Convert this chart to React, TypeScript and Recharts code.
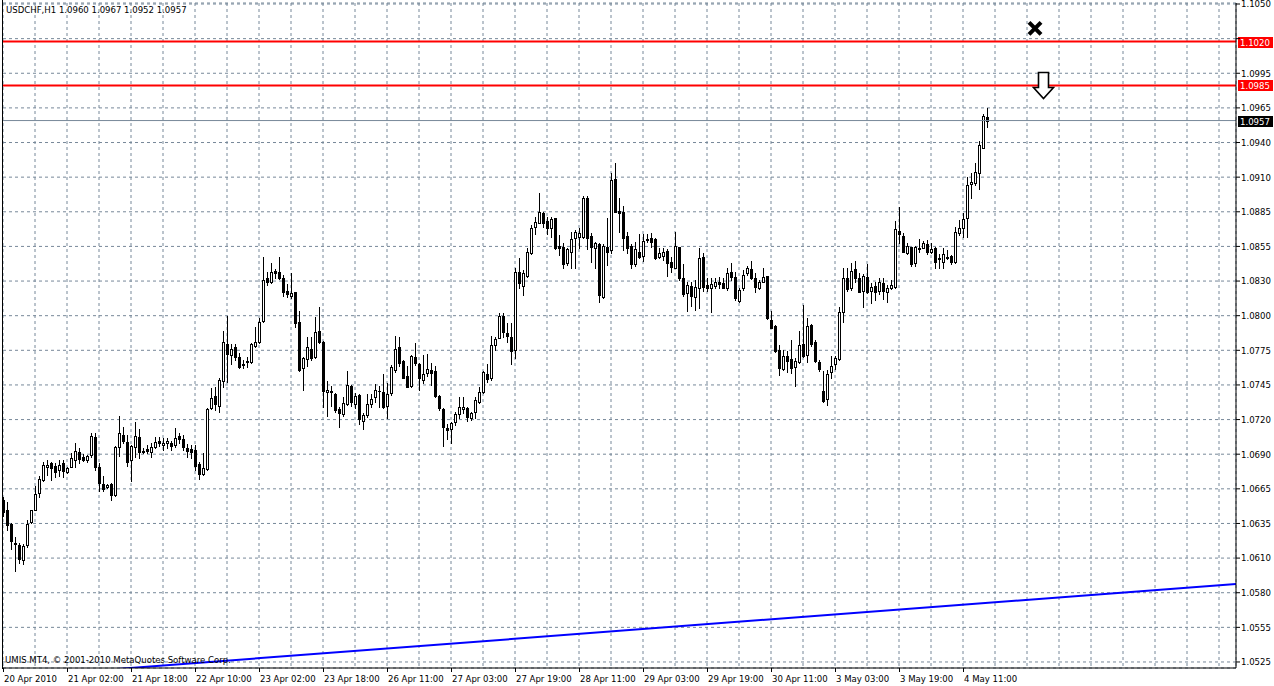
import React from "react";
import { ComposedChart, Bar, XAxis, YAxis, CartesianGrid, ReferenceLine, ReferenceDot } from "recharts";

const symbol = "USDCHF,H1";

// Hourly candles, bar 0 = 20 Apr 2010
const opens = [
  1.0654, 1.06466, 1.06348, 1.06201, 1.06187, 1.06067, 1.06187, 1.06366, 1.06465, 1.06602,
  1.06701, 1.06808, 1.06835, 1.06813, 1.06781, 1.0684, 1.06768, 1.06805, 1.06862, 1.06928,
  1.06888, 1.06862, 1.06902, 1.07049, 1.06803, 1.06669, 1.06647, 1.06669, 1.06581, 1.06969,
  1.07062, 1.07009, 1.06862, 1.06969, 1.07049, 1.06936, 1.06947, 1.06928, 1.06969, 1.07014,
  1.06979, 1.06995, 1.06998, 1.06982, 1.07056, 1.07029, 1.06961, 1.0695, 1.06942, 1.06828,
  1.06748, 1.06788, 1.07275, 1.07373, 1.07296, 1.07493, 1.07788, 1.077, 1.07761, 1.07682,
  1.07631, 1.07652, 1.07642, 1.07775, 1.07801, 1.07971, 1.08312, 1.0828, 1.0837, 1.0836,
  1.08312, 1.08211, 1.08174, 1.082, 1.07961, 1.07599, 1.07668, 1.07748, 1.07687, 1.07892,
  1.07801, 1.07402, 1.07414, 1.07385, 1.07271, 1.07226, 1.07305, 1.07452, 1.07311, 1.0738,
  1.07175, 1.0722, 1.07308, 1.07361, 1.07414, 1.07401, 1.07295, 1.07399, 1.07579, 1.0776,
  1.07651, 1.07531, 1.07452, 1.0768, 1.07627, 1.075, 1.07558, 1.07579, 1.07571, 1.07372,
  1.07266, 1.07119, 1.07106, 1.07167, 1.07228, 1.07271, 1.07274, 1.07194, 1.07247, 1.07327,
  1.07407, 1.07547, 1.07513, 1.07779, 1.07837, 1.0801, 1.07872, 1.07845, 1.07739, 1.08364,
  1.0825, 1.08332, 1.0851, 1.08723, 1.08755, 1.08835, 1.08768, 1.08715, 1.0879, 1.08572,
  1.08558, 1.08431, 1.08524, 1.0863, 1.08643, 1.08643, 1.08955, 1.08649, 1.08556, 1.08582,
  1.08164, 1.08564, 1.08537, 1.09103, 1.08848, 1.08843, 1.08649, 1.08572, 1.08423, 1.08524,
  1.08489, 1.08625, 1.0863, 1.08622, 1.08484, 1.0849, 1.0853, 1.08444, 1.08397, 1.08559,
  1.08317, 1.08197, 1.08253, 1.08165, 1.08232, 1.08484, 1.08258, 1.08232, 1.0825, 1.0828,
  1.08272, 1.08232, 1.08359, 1.08325, 1.08133, 1.08232, 1.08351, 1.08386, 1.08311, 1.08237,
  1.08285, 1.0833, 1.07979, 1.07931, 1.0774, 1.07585, 1.07692, 1.07668, 1.07607, 1.07646,
  1.07785, 1.077, 1.07939, 1.07806, 1.07646, 1.07412, 1.07348, 1.07561, 1.07625, 1.07667,
  1.08045, 1.08311, 1.08236, 1.08385, 1.08316, 1.0821, 1.08319, 1.0821, 1.0825, 1.0821,
  1.08271, 1.08205, 1.08236, 1.08245, 1.08689, 1.08651, 1.08516, 1.08558, 1.08431, 1.08556,
  1.08556, 1.08585, 1.08524, 1.0855, 1.08471, 1.08439, 1.08476, 1.08489, 1.08444, 1.0867,
  1.08715, 1.0879, 1.09061, 1.09069, 1.09149, 1.09354, 1.096,
];
const highs = [
  1.06567, 1.06527, 1.06358, 1.06246, 1.06198, 1.06193, 1.06385, 1.06465, 1.06653, 1.06733,
  1.06848, 1.06862, 1.06848, 1.06835, 1.06862, 1.06862, 1.06808, 1.0692, 1.06995, 1.06955,
  1.0691, 1.06902, 1.07081, 1.07081, 1.06835, 1.06736, 1.06669, 1.0668, 1.06974, 1.07215,
  1.07124, 1.07062, 1.06982, 1.07161, 1.07108, 1.06955, 1.06982, 1.06995, 1.07044, 1.07049,
  1.07035, 1.07041, 1.07014, 1.07115, 1.07075, 1.07062, 1.06987, 1.06982, 1.06982, 1.06849,
  1.06915, 1.07275, 1.07439, 1.07447, 1.07519, 1.07892, 1.08011, 1.07785, 1.07788, 1.07714,
  1.0766, 1.07682, 1.07793, 1.07926, 1.07998, 1.0848, 1.08365, 1.08432, 1.08386, 1.08485,
  1.08339, 1.08264, 1.08352, 1.08206, 1.08051, 1.07687, 1.07846, 1.07846, 1.08006, 1.08086,
  1.0781, 1.07493, 1.07452, 1.07393, 1.07282, 1.07367, 1.07574, 1.0746, 1.07393, 1.07388,
  1.07234, 1.07388, 1.07388, 1.07468, 1.07452, 1.07547, 1.07473, 1.07619, 1.07851, 1.0784,
  1.07659, 1.07611, 1.07699, 1.07797, 1.07638, 1.07699, 1.07707, 1.07633, 1.07611, 1.0738,
  1.07274, 1.07148, 1.07167, 1.07247, 1.07361, 1.07367, 1.07282, 1.07247, 1.07367, 1.07441,
  1.07574, 1.07627, 1.07851, 1.07845, 1.08032, 1.08032, 1.07952, 1.07952, 1.08391, 1.0847,
  1.08377, 1.0855, 1.08736, 1.08803, 1.08989, 1.08843, 1.08803, 1.08803, 1.08795, 1.08657,
  1.0859, 1.08556, 1.08683, 1.08697, 1.0871, 1.0897, 1.0897, 1.0867, 1.08603, 1.0859,
  1.08582, 1.0879, 1.09149, 1.09228, 1.08949, 1.08891, 1.08683, 1.08582, 1.08598, 1.08662,
  1.08662, 1.08662, 1.08675, 1.0863, 1.08551, 1.08551, 1.08545, 1.08484, 1.08678, 1.08564,
  1.08423, 1.08279, 1.08279, 1.08298, 1.08556, 1.08511, 1.08317, 1.08311, 1.08317, 1.08325,
  1.08311, 1.08391, 1.08431, 1.08365, 1.08237, 1.08378, 1.0841, 1.0845, 1.08351, 1.08298,
  1.08397, 1.08333, 1.08051, 1.07939, 1.07779, 1.0774, 1.07732, 1.07819, 1.07678, 1.07891,
  1.08099, 1.07998, 1.07944, 1.07819, 1.0766, 1.07572, 1.0758, 1.07694, 1.07694, 1.08085,
  1.08396, 1.08391, 1.08431, 1.08449, 1.08351, 1.08343, 1.08423, 1.08271, 1.08284, 1.08316,
  1.08311, 1.08258, 1.08298, 1.08769, 1.08883, 1.0867, 1.0859, 1.08564, 1.08572, 1.08625,
  1.08609, 1.08617, 1.0859, 1.08564, 1.08503, 1.08556, 1.08537, 1.08497, 1.08723, 1.08777,
  1.0883, 1.09122, 1.09149, 1.09229, 1.09407, 1.0962, 1.0967,
];
const lows = [
  1.06412, 1.063, 1.06152, 1.05973, 1.06037, 1.06032, 1.06171, 1.06358, 1.0646, 1.06567,
  1.06693, 1.06741, 1.06706, 1.06728, 1.06733, 1.06728, 1.0676, 1.06803, 1.06808, 1.06835,
  1.06856, 1.06848, 1.06888, 1.06781, 1.06613, 1.06613, 1.06642, 1.0654, 1.06573, 1.06894,
  1.06995, 1.06813, 1.06696, 1.06883, 1.06875, 1.06915, 1.0692, 1.06888, 1.06961, 1.06977,
  1.06942, 1.06955, 1.06942, 1.06969, 1.06995, 1.06942, 1.06889, 1.06876, 1.06783, 1.06711,
  1.06743, 1.06783, 1.07269, 1.07261, 1.07248, 1.07447, 1.07482, 1.07626, 1.0766, 1.07599,
  1.07594, 1.07607, 1.07639, 1.07767, 1.07793, 1.07961, 1.08259, 1.08272, 1.08312, 1.08307,
  1.08174, 1.08166, 1.08152, 1.07926, 1.07572, 1.07421, 1.07615, 1.0766, 1.07679, 1.07793,
  1.07288, 1.07216, 1.07292, 1.07247, 1.07127, 1.07212, 1.07297, 1.07292, 1.07274, 1.07148,
  1.07106, 1.07202, 1.07287, 1.07327, 1.07287, 1.07274, 1.07194, 1.0738, 1.07566, 1.07611,
  1.07513, 1.07441, 1.07441, 1.07619, 1.0742, 1.07478, 1.07531, 1.0746, 1.07367, 1.0726,
  1.06973, 1.07026, 1.07, 1.07141, 1.07194, 1.07239, 1.07175, 1.0718, 1.07194, 1.07313,
  1.07399, 1.07486, 1.075, 1.07739, 1.07832, 1.07845, 1.07805, 1.07625, 1.07672, 1.08231,
  1.08178, 1.08324, 1.08502, 1.08662, 1.0875, 1.08723, 1.08662, 1.08643, 1.08545, 1.08497,
  1.08391, 1.08417, 1.08391, 1.08391, 1.0855, 1.08635, 1.08545, 1.08439, 1.08396, 1.08119,
  1.08156, 1.08417, 1.0851, 1.08837, 1.08683, 1.08537, 1.0851, 1.08391, 1.08412, 1.0847,
  1.08449, 1.08598, 1.08564, 1.08462, 1.08471, 1.08458, 1.08333, 1.08365, 1.08391, 1.08298,
  1.08173, 1.08051, 1.08093, 1.08059, 1.08077, 1.0821, 1.0821, 1.08045, 1.08232, 1.08237,
  1.08232, 1.08218, 1.08298, 1.08139, 1.0812, 1.08218, 1.08338, 1.08306, 1.08205, 1.08226,
  1.0828, 1.07987, 1.07912, 1.07721, 1.0754, 1.0758, 1.07567, 1.07553, 1.07455, 1.07633,
  1.07686, 1.07641, 1.07774, 1.07641, 1.07572, 1.07322, 1.073, 1.07518, 1.07587, 1.07659,
  1.0796, 1.0821, 1.08218, 1.08279, 1.08199, 1.08085, 1.08191, 1.08111, 1.08138, 1.08183,
  1.08146, 1.08125, 1.08226, 1.08236, 1.0859, 1.08518, 1.08503, 1.08412, 1.08412, 1.08524,
  1.0855, 1.08503, 1.0851, 1.08396, 1.08391, 1.08391, 1.08465, 1.08423, 1.08431, 1.08657,
  1.08643, 1.08643, 1.08955, 1.09056, 1.09024, 1.09348, 1.0952,
];
const closes = [
  1.06447, 1.0634, 1.06214, 1.06193, 1.06072, 1.06179, 1.06348, 1.0646, 1.06589, 1.06709,
  1.06821, 1.06821, 1.068, 1.06768, 1.06821, 1.06776, 1.068, 1.0688, 1.06934, 1.06867,
  1.06862, 1.06894, 1.07054, 1.06803, 1.06682, 1.06634, 1.06661, 1.06581, 1.06969, 1.07081,
  1.07014, 1.06848, 1.06974, 1.07057, 1.06923, 1.06923, 1.06934, 1.06969, 1.07009, 1.06995,
  1.07001, 1.07014, 1.06971, 1.07035, 1.07029, 1.06969, 1.06934, 1.06929, 1.06817, 1.06748,
  1.06796, 1.07269, 1.0736, 1.07307, 1.07501, 1.07801, 1.07706, 1.07745, 1.07687, 1.07607,
  1.0762, 1.07642, 1.07785, 1.07807, 1.07966, 1.08299, 1.08285, 1.08365, 1.08357, 1.08317,
  1.082, 1.0819, 1.08192, 1.07953, 1.07581, 1.07679, 1.07761, 1.07679, 1.07881, 1.07801,
  1.07413, 1.07421, 1.07401, 1.0726, 1.07234, 1.07313, 1.07457, 1.07327, 1.07372, 1.07186,
  1.0722, 1.07308, 1.07348, 1.0742, 1.0741, 1.07287, 1.07385, 1.07601, 1.07744, 1.07638,
  1.07518, 1.07446, 1.07691, 1.07638, 1.07518, 1.07547, 1.07585, 1.07558, 1.07375, 1.07274,
  1.07127, 1.07101, 1.07154, 1.07228, 1.07287, 1.07287, 1.07207, 1.07234, 1.0734, 1.07401,
  1.07561, 1.07505, 1.07779, 1.07827, 1.08013, 1.0788, 1.07853, 1.07731, 1.08359, 1.08271,
  1.08351, 1.08518, 1.08715, 1.08763, 1.08837, 1.08755, 1.0871, 1.08782, 1.0855, 1.08556,
  1.08423, 1.08545, 1.08625, 1.08678, 1.0867, 1.08949, 1.08635, 1.08564, 1.0859, 1.08178,
  1.08572, 1.08524, 1.09095, 1.08843, 1.08835, 1.08635, 1.0855, 1.08423, 1.08542, 1.08484,
  1.08609, 1.08614, 1.08603, 1.08476, 1.08511, 1.08524, 1.08431, 1.08405, 1.08569, 1.08317,
  1.08186, 1.08258, 1.08173, 1.08245, 1.08476, 1.08245, 1.08237, 1.08264, 1.0828, 1.08269,
  1.08237, 1.08351, 1.08325, 1.08152, 1.08218, 1.08338, 1.08391, 1.08317, 1.08245, 1.0828,
  1.08319, 1.07992, 1.07918, 1.07732, 1.07599, 1.07694, 1.07654, 1.07599, 1.07652, 1.07779,
  1.07692, 1.07931, 1.07785, 1.07652, 1.07585, 1.07332, 1.07545, 1.07614, 1.07678, 1.0804,
  1.08311, 1.08226, 1.0837, 1.08316, 1.08205, 1.0833, 1.08199, 1.08239, 1.08205, 1.08279,
  1.08213, 1.08231, 1.08258, 1.08702, 1.08662, 1.08524, 1.08569, 1.08423, 1.08558, 1.08545,
  1.0859, 1.08518, 1.08545, 1.08439, 1.08465, 1.08503, 1.08484, 1.08439, 1.08683, 1.0871,
  1.08784, 1.09056, 1.09077, 1.09157, 1.09375, 1.09609, 1.0957,
];

// one time label every 16 bars, starting at bar 0
const dateLabels = [
  "20 Apr 2010", "21 Apr 02:00", "21 Apr 18:00", "22 Apr 10:00", "23 Apr 02:00", "23 Apr 18:00",
  "26 Apr 11:00", "27 Apr 03:00", "27 Apr 19:00", "28 Apr 11:00", "29 Apr 03:00", "29 Apr 19:00",
  "30 Apr 11:00", "3 May 03:00", "3 May 19:00", "4 May 11:00",
];
const labelEvery = 16;
const gridEvery = 8;
const lastVisibleBar = 308.25;

// price scale labels, top to bottom (grid rows are evenly spaced)
const priceLabels = [
  "1.1050", "", "1.0995", "1.0965", "1.0940", "1.0910", "1.0885", "1.0855", "1.0830", "1.0800",
  "1.0775", "1.0745", "1.0720", "1.0690", "1.0665", "1.0635", "1.0610", "1.0580", "1.0555", "1.0525",
];
const gridTop = 1.105;
const gridBottom = 1.0525;
const priceDomain = [1.05202, 1.10508];

const levels = [
  { price: 1.102, label: "1.1020" },
  { price: 1.0985, label: "1.0985" },
];
const bid = { price: 1.0957, label: "1.0957" };
const trendPoints = [
  { bar: 0, price: 1.05125 },
  { bar: 308.25, price: 1.05872 },
];
const crossMark = { bar: 258, price: 1.10306 };
const arrowMark = { bar: 260, price: 1.0996 };

const FONT = "'DejaVu Sans Condensed', 'Liberation Sans', sans-serif";
const FS = 9.5;

const candles = opens.map((o, i) => ({
  i,
  open: o,
  high: highs[i],
  low: lows[i],
  close: closes[i],
  range: [lows[i], highs[i]],
}));

const yTicks = priceLabels.map((_, k) => gridTop - (k * (gridTop - gridBottom)) / (priceLabels.length - 1));
const xTicks: number[] = [];
for (let b = 0; b <= lastVisibleBar; b += gridEvery) xTicks.push(b);

const Candle = (props: any) => {
  const { x, y, width, height, payload } = props;
  if (x == null || y == null || !payload) return null;
  const top = Math.min(y, y + height);
  const h = Math.abs(height);
  const { open, close, high, low } = payload;
  const k = high - low > 0 ? h / (high - low) : 0;
  const py = (v: number) => top + (high - v) * k;
  const cx = Math.round(x + width / 2);
  const yH = Math.round(py(high));
  const yL = Math.round(py(low));
  const b1 = Math.round(Math.min(py(open), py(close)));
  const b2 = Math.round(Math.max(py(open), py(close)));
  const bull = close >= open;
  return (
    <g shapeRendering="crispEdges">
      <line x1={cx + 0.5} x2={cx + 0.5} y1={yH} y2={yL + 1} stroke="#000" strokeWidth={1} />
      {b2 - b1 < 1 ? (
        <line x1={cx - 1} x2={cx + 2} y1={b1 + 0.5} y2={b1 + 0.5} stroke="#000" strokeWidth={1} />
      ) : (
        <rect x={cx - 0.5} y={b1 + 0.5} width={2} height={b2 - b1} fill={bull ? "#fff" : "#000"} stroke="#000" strokeWidth={1} />
      )}
    </g>
  );
};

const DateTick = (props: any) => {
  const { x, y, payload } = props;
  const v = payload.value;
  if (v % labelEvery !== 0) return null;
  const label = dateLabels[v / labelEvery];
  if (!label) return null;
  const lx = Math.round(x) + 0.5;
  return (
    <g>
      <line x1={lx} x2={lx} y1={y - 4} y2={y} stroke="#000" strokeWidth={1} shapeRendering="crispEdges" />
      <text x={x + 1} y={y + 9.5} fontSize={FS} fontFamily={FONT} fill="#000">
        {label}
      </text>
    </g>
  );
};

const PriceTag = (props: any) => {
  const { viewBox, text, bg } = props;
  if (!viewBox) return null;
  const left = viewBox.x + viewBox.width + 2;
  const cy = Math.round(viewBox.y);
  return (
    <g>
      <rect x={left} y={cy - 5} width={35} height={11} fill={bg} />
      <text x={left + 2} y={cy + 3.5} fontSize={FS} fontFamily={FONT} fill="#fff">
        {text}
      </text>
    </g>
  );
};

const CrossShape = (props: any) => {
  const { cx, cy } = props;
  if (cx == null || cy == null) return null;
  const a = 6;
  return (
    <g>
      <line x1={cx - a} y1={cy - a} x2={cx + a} y2={cy + a} stroke="#000" strokeWidth={4} />
      <line x1={cx + a} y1={cy - a} x2={cx - a} y2={cy + a} stroke="#000" strokeWidth={4} />
    </g>
  );
};

const ArrowShape = (props: any) => {
  const { cx, cy } = props;
  if (cx == null || cy == null) return null;
  const x = Math.round(cx) + 0.5;
  const t = Math.round(cy) + 0.5;
  const d = `M${x - 5},${t} L${x + 5},${t} L${x + 5},${t + 15} L${x + 10},${t + 15} L${x},${t + 26} L${x - 10},${t + 15} L${x - 5},${t + 15} Z`;
  return <path d={d} fill="#fff" stroke="#000" strokeWidth={1.6} />;
};

const last = opens.length - 1;
const title = `${symbol} ${opens[last].toFixed(4)} ${highs[last].toFixed(4)} ${lows[last].toFixed(4)} ${closes[last].toFixed(4)}`;

export default function App() {
  return (
    <div style={{ position: "absolute", left: 0, top: 0, width: 1274, height: 686, background: "#fff", overflow: "hidden" }}>
      <ComposedChart width={1274} height={686} data={candles} margin={{ top: 3, right: 0, bottom: 0, left: 3 }}>
        <CartesianGrid stroke="#778899" strokeDasharray="3 3" />
        <XAxis
          type="number"
          dataKey="i"
          domain={[0, lastVisibleBar]}
          allowDataOverflow
          ticks={xTicks}
          interval={0}
          height={18}
          tickSize={4}
          tickMargin={0}
          tickLine={false}
          tick={<DateTick />}
          axisLine={{ stroke: "#000" }}
        />
        <YAxis
          orientation="right"
          type="number"
          domain={priceDomain}
          allowDataOverflow
          ticks={yTicks}
          interval={0}
          width={38}
          tickSize={4}
          tickMargin={1}
          tickLine={{ stroke: "#000" }}
          axisLine={{ stroke: "#000" }}
          tick={{ fontSize: FS, fill: "#000", fontFamily: FONT }}
          tickFormatter={(v: number) => {
            const k = yTicks.findIndex((t) => Math.abs(t - v) < 1e-7);
            return k >= 0 ? priceLabels[k] : "";
          }}
        />
        <ReferenceLine
          segment={[{ x: trendPoints[0].bar, y: trendPoints[0].price }, { x: trendPoints[1].bar, y: trendPoints[1].price }]}
          stroke="#0000ff"
          strokeWidth={2}
          ifOverflow="hidden"
        />
        {levels.map((l) => (
          <ReferenceLine key={l.label} y={l.price} stroke="#ff0000" strokeWidth={2} ifOverflow="visible" label={<PriceTag text={l.label} bg="#ff0000" />} />
        ))}
        <ReferenceLine y={bid.price} stroke="#778899" strokeWidth={1} ifOverflow="visible" label={<PriceTag text={bid.label} bg="#000" />} />
        <Bar dataKey="range" barSize={3} isAnimationActive={false} shape={<Candle />} />
        <ReferenceDot x={crossMark.bar} y={crossMark.price} r={8} ifOverflow="visible" shape={(p: any) => <CrossShape {...p} />} />
        <ReferenceDot x={arrowMark.bar} y={arrowMark.price} r={8} ifOverflow="visible" shape={(p: any) => <ArrowShape {...p} />} />
      </ComposedChart>
      <div style={{ position: "absolute", left: 2, top: 0, width: 1, height: 669, background: "#000" }} />
      <div style={{ position: "absolute", left: 6, top: 3, fontFamily: FONT, fontSize: FS, color: "#000", whiteSpace: "pre", lineHeight: "13px" }}>
        {title}
      </div>
      <div style={{ position: "absolute", left: 5, top: 653, fontFamily: FONT, fontSize: FS, color: "#000", whiteSpace: "pre", lineHeight: "13px" }}>
        UMIS MT4, © 2001-2010 MetaQuotes Software Corp.
      </div>
    </div>
  );
}
